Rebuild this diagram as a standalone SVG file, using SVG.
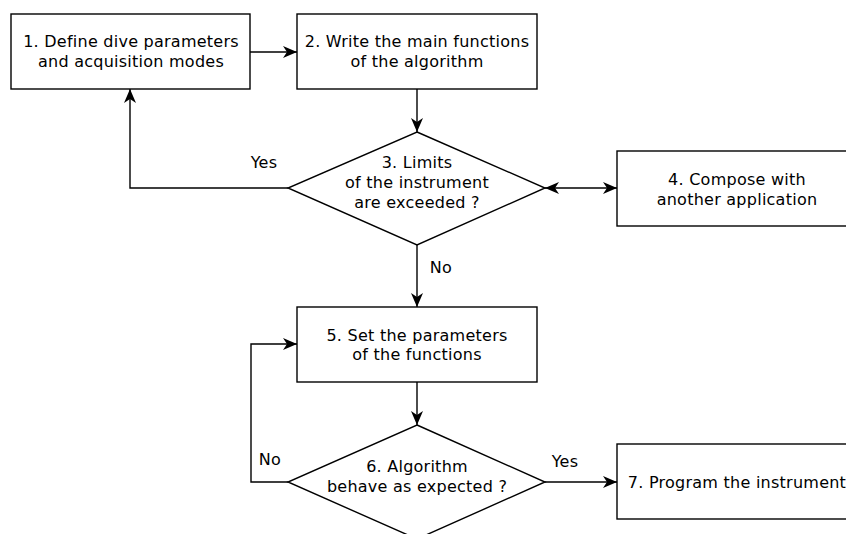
<svg xmlns="http://www.w3.org/2000/svg" width="846" height="534" viewBox="0 0 846 534">
<style>
.n{fill:#fff;stroke:#000;stroke-width:1.4}
.t{font-family:"DejaVu Sans",sans-serif;font-size:16px;letter-spacing:0.25px;fill:#000;text-anchor:middle}
.c{fill:none;stroke:#000;stroke-width:1.4}
</style>
<defs>
<marker id="a" markerUnits="userSpaceOnUse" viewBox="0 0 14 12" refX="14" refY="6" markerWidth="14" markerHeight="12" orient="auto">
<path d="M0,0 L14,6 L0,12 L4,6 z" fill="#000"/>
</marker>
<marker id="as" markerUnits="userSpaceOnUse" viewBox="0 0 14 12" refX="14" refY="6" markerWidth="14" markerHeight="12" orient="auto-start-reverse">
<path d="M0,0 L14,6 L0,12 L4,6 z" fill="#000"/>
</marker>
</defs>
<rect width="846" height="534" fill="#fff"/>
<g id="connectors">
<path class="c" d="M250,52 L297,52" marker-end="url(#a)"/>
<path class="c" d="M417,89 L417,132" marker-end="url(#a)"/>
<path class="c" d="M288,188 L130,188 L130,89" marker-end="url(#a)"/>
<path class="c" d="M545,188 L617,188" marker-start="url(#as)" marker-end="url(#a)"/>
<path class="c" d="M417,245 L417,307" marker-end="url(#a)"/>
<path class="c" d="M417,382 L417,425" marker-end="url(#a)"/>
<path class="c" d="M288,482 L251,482 L251,344 L297,344" marker-end="url(#a)"/>
<path class="c" d="M545,482 L617,482" marker-end="url(#a)"/>
<text class="t" x="264" y="168">Yes</text>
<text class="t" x="441" y="273">No</text>
<text class="t" x="270" y="465">No</text>
<text class="t" x="565" y="467">Yes</text>
</g>
<g id="n1">
<rect class="n" x="11" y="14" width="239" height="75"/>
<text class="t" x="131" y="47">1. Define dive parameters</text>
<text class="t" x="131" y="67">and acquisition modes</text>
</g>
<g id="n2">
<rect class="n" x="297" y="14" width="240" height="75"/>
<text class="t" x="417" y="47">2. Write the main functions</text>
<text class="t" x="417" y="67">of the algorithm</text>
</g>
<g id="n3">
<path class="n" d="M417,132 L545,188 L417,245 L288,188 z"/>
<text class="t" x="417" y="168">3. Limits</text>
<text class="t" x="417" y="188">of the instrument</text>
<text class="t" x="417" y="208">are exceeded ?</text>
</g>
<g id="n4">
<rect class="n" x="617" y="151" width="240" height="75"/>
<text class="t" x="737" y="185">4. Compose with</text>
<text class="t" x="737" y="204.5">another application</text>
</g>
<g id="n5">
<rect class="n" x="297" y="307" width="240" height="75"/>
<text class="t" x="417" y="341">5. Set the parameters</text>
<text class="t" x="417" y="360">of the functions</text>
</g>
<g id="n6">
<path class="n" d="M417,425 L545,482 L417,539 L288,482 z"/>
<text class="t" x="417" y="472">6. Algorithm</text>
<text class="t" x="417" y="492">behave as expected ?</text>
</g>
<g id="n7">
<rect class="n" x="617" y="444" width="240" height="75"/>
<text class="t" x="737" y="488">7. Program the instrument</text>
</g>
</svg>
